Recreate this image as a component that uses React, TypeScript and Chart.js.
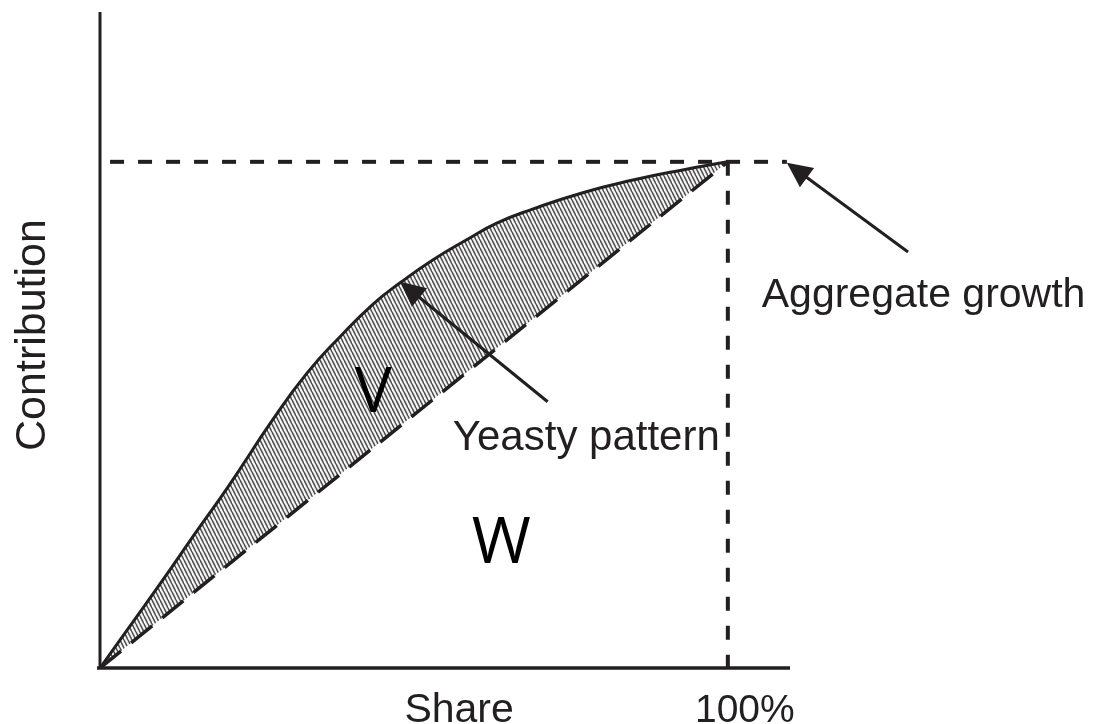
import React, { useEffect, useRef } from "react";
import { Chart, registerables } from "chart.js";

Chart.register(...registerables);

// ---- data (share in %, contribution in % of aggregate growth) ----
const curveShare = [0, 5.6, 9.9, 15.1, 20.4, 27.6, 33.0, 38.2, 43.5, 47.8, 53.0, 58.4, 63.2, 69.0, 76.9, 84.9, 92.8, 100];
const curveContribution = [0, 9.7, 17.2, 26.5, 35.8, 49.2, 58.3, 65.4, 71.9, 76.1, 80.6, 84.6, 87.9, 90.7, 93.9, 96.4, 98.4, 100];
const diagonalShare = [0, 100];
const diagonalContribution = [0, 100];
const aggregateShare = [1.6, 109.4];
const aggregateLevel = [100, 100];
const fullShare = [100, 100];
const fullShareContribution = [100, 0];

const X_MAX = 109.9;
const Y_MAX = 129.6;

const xTickValue = 100;
const xTickLabel = "100%";
const xTitle = "Share";
const yTitle = "Contribution";

// annotation labels (data coordinates)
const labelTexts = ["Aggregate growth", "Yeasty pattern", "V", "W"];
const labelXs = [105.4, 56.2, 43.5, 63.9];
const labelYs = [71.3, 43.1, 50.6, 20.8];

// arrows: tail -> tip (data coordinates)
const arrowTailX = [128.7, 71.3];
const arrowTailY = [82.2, 52.6];
const arrowTipX = [109.4, 47.8];
const arrowTipY = [99.8, 76.3];

const INK = "#231f20";
const SANS = '"Liberation Sans", Arial, Helvetica, sans-serif';
const OPEN = '"Open Sans", "Liberation Sans", sans-serif';

const toPoints = (xs: number[], ys: number[]) => xs.map((x, i) => ({ x, y: ys[i] }));

function makeHatch(): CanvasPattern | string {
  const pc = document.createElement("canvas");
  pc.width = 4;
  pc.height = 8;
  const g = pc.getContext("2d");
  if (!g) return "#a8a8a8";
  g.fillStyle = "#f6f6f6";
  g.fillRect(0, 0, 4, 8);
  g.strokeStyle = "#505050";
  g.lineWidth = 1.6;
  for (const o of [-4, 0, 4]) {
    g.beginPath();
    g.moveTo(o, 0);
    g.lineTo(o + 4, 8);
    g.stroke();
  }
  const p = g.createPattern(pc, "repeat");
  return p || "#a8a8a8";
}

const annotationPlugin = {
  id: "yeastyAnnotations",
  afterDatasetsDraw(chart: any) {
    const { ctx } = chart;
    const xs = chart.scales.x;
    const ys = chart.scales.y;
    const px = (v: number) => xs.getPixelForValue(v);
    const py = (v: number) => ys.getPixelForValue(v);
    ctx.save();

    // axes
    ctx.setLineDash([]);
    ctx.strokeStyle = INK;
    ctx.lineWidth = 3;
    ctx.lineCap = "butt";
    ctx.beginPath();
    ctx.moveTo(px(0), py(Y_MAX));
    ctx.lineTo(px(0), py(0));
    ctx.stroke();
    ctx.lineWidth = 3.5;
    ctx.beginPath();
    ctx.moveTo(px(0) - 3, py(0));
    ctx.lineTo(px(X_MAX), py(0));
    ctx.stroke();

    // arrows
    ctx.fillStyle = INK;
    for (let i = 0; i < arrowTailX.length; i++) {
      const x0 = px(arrowTailX[i]);
      const y0 = py(arrowTailY[i]);
      const x1 = px(arrowTipX[i]);
      const y1 = py(arrowTipY[i]);
      const ang = Math.atan2(y1 - y0, x1 - x0);
      const headLen = 25;
      const headHalf = 12;
      const bx = x1 - headLen * Math.cos(ang);
      const by = y1 - headLen * Math.sin(ang);
      ctx.lineWidth = 3;
      ctx.beginPath();
      ctx.moveTo(x0, y0);
      ctx.lineTo(bx + 4 * Math.cos(ang), by + 4 * Math.sin(ang));
      ctx.stroke();
      ctx.beginPath();
      ctx.moveTo(x1, y1);
      ctx.lineTo(bx + headHalf * Math.sin(ang), by - headHalf * Math.cos(ang));
      ctx.lineTo(bx - headHalf * Math.sin(ang), by + headHalf * Math.cos(ang));
      ctx.closePath();
      ctx.fill();
    }

    // labels
    ctx.fillStyle = INK;
    ctx.textBaseline = "alphabetic";
    ctx.textAlign = "left";
    ctx.font = `41px ${SANS}`;
    ctx.fillText(labelTexts[0], px(labelXs[0]), py(labelYs[0]));
    ctx.font = `42px ${SANS}`;
    ctx.fillText(labelTexts[1], px(labelXs[1]), py(labelYs[1]));
    ctx.fillStyle = "#000";
    ctx.textAlign = "center";
    ctx.font = `62px ${OPEN}`;
    ctx.fillText(labelTexts[2], px(labelXs[2]), py(labelYs[2]));
    ctx.font = `64px ${OPEN}`;
    ctx.fillText(labelTexts[3], px(labelXs[3]), py(labelYs[3]));

    // axis texts
    ctx.fillStyle = INK;
    ctx.textAlign = "center";
    ctx.font = `41px ${SANS}`;
    ctx.fillText(xTitle, px(57.2), py(0) + 54);
    ctx.font = `39px ${SANS}`;
    ctx.fillText(xTickLabel, px(xTickValue) + 17, py(0) + 54);

    ctx.save();
    ctx.translate(px(0) - 55, (py(0) + py(Y_MAX)) / 2 - 5);
    ctx.rotate(-Math.PI / 2);
    ctx.font = `43px ${SANS}`;
    ctx.textAlign = "center";
    ctx.fillText(yTitle, 0, 0);
    ctx.restore();

    ctx.restore();
  },
};

export default function App() {
  const canvasRef = useRef<HTMLCanvasElement | null>(null);

  useEffect(() => {
    if (!canvasRef.current) return;
    const hatch = makeHatch();
    const chart = new Chart(canvasRef.current, {
      type: "scatter",
      data: {
        datasets: [
          {
            label: "Yeasty pattern",
            data: toPoints(curveShare, curveContribution),
            showLine: true,
            borderColor: INK,
            borderWidth: 3,
            pointRadius: 0,
            tension: 0.5,
            order: 1,
            fill: { target: 1 },
            backgroundColor: hatch as any,
          },
          {
            label: "Proportional",
            data: toPoints(diagonalShare, diagonalContribution),
            showLine: true,
            borderColor: INK,
            borderWidth: 3.5,
            borderDash: [27, 13],
            pointRadius: 0,
            order: -1,
            fill: false,
          },
          {
            label: "Aggregate growth",
            data: toPoints(aggregateShare, aggregateLevel),
            showLine: true,
            borderColor: INK,
            borderWidth: 4,
            borderDash: [14, 14],
            pointRadius: 0,
            order: 0,
            fill: false,
          },
          {
            label: "100% share",
            data: toPoints(fullShare, fullShareContribution),
            showLine: true,
            borderColor: INK,
            borderWidth: 4,
            borderDash: [14, 15],
            pointRadius: 0,
            order: 0,
            fill: false,
          },
        ],
      },
      options: {
        animation: false,
        responsive: true,
        maintainAspectRatio: false,
        layout: { padding: { left: 100, right: 311, top: 12, bottom: 56 } },
        plugins: {
          legend: { display: false },
          tooltip: { enabled: false },
        },
        scales: {
          x: { type: "linear", display: false, min: 0, max: X_MAX },
          y: { type: "linear", display: false, min: 0, max: Y_MAX },
        },
      },
      plugins: [annotationPlugin],
    });
    return () => chart.destroy();
  }, []);

  return (
    <div style={{ position: "absolute", left: 0, top: 0, width: 1101, height: 724, background: "#fff" }}>
      <canvas ref={canvasRef} />
    </div>
  );
}
